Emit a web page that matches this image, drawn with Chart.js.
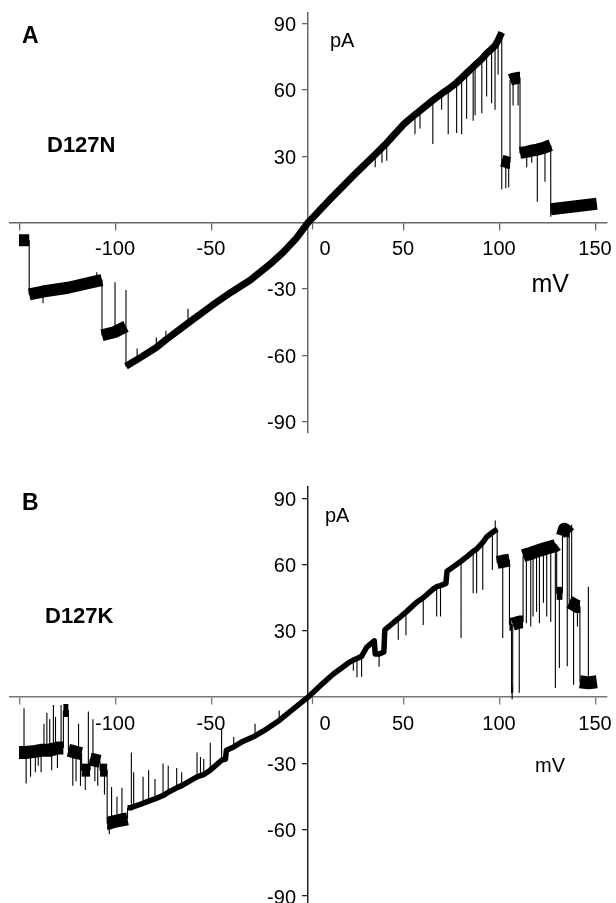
<!DOCTYPE html>
<html>
<head>
<meta charset="utf-8">
<script src="https://cdn.jsdelivr.net/npm/chart.js@4"></script>
<style>
  html, body { margin: 0; padding: 0; background: #fff; overflow: hidden; }
  body { width: 616px; height: 903px; position: relative; font-family: "Liberation Sans", Arial, sans-serif; }
  .panel { position: absolute; left: 0; width: 616px; }
  #panelA { top: 0; height: 460px; }
  #panelB { top: 460px; height: 443px; }
  .lbl { position: absolute; white-space: nowrap; line-height: 1; color: #000; }
  .bold { font-weight: bold; }
</style>
</head>
<body>
<div class="panel" id="panelA"><canvas id="chartA"></canvas></div>
<div class="panel" id="panelB"><canvas id="chartB"></canvas></div>

<div class="lbl bold" style="left:22px;top:23.5px;font-size:23px">A</div>
<div class="lbl bold" style="left:47px;top:133.5px;font-size:22px">D127N</div>
<div class="lbl" style="left:330px;top:29.5px;font-size:20px">pA</div>
<div class="lbl" style="left:531.5px;top:271px;font-size:25px">mV</div>

<div class="lbl bold" style="left:22px;top:490.5px;font-size:23px">B</div>
<div class="lbl bold" style="left:45px;top:604.5px;font-size:22px">D127K</div>
<div class="lbl" style="left:325px;top:505px;font-size:20px">pA</div>
<div class="lbl" style="left:535px;top:755px;font-size:20px">mV</div>

<script>
// axis ticks (mV / pA)
const xTicks = [-150, -100, -50, 50, 100, 150];
const xTickLabels = [-100, -50, 0, 50, 100, 150];
const yTicks = [-90, -60, -30, 30, 60, 90];

// D127N: main current level during the ramp (mV, pA); repeated x = conductance steps
const voltageA = [
  -150.5, -145.2, -145.2, -138, -125, -110, -107.3, -107.3, -100.5, -94.8,
  -94.8, -89, -79, -74, -62.5, -50, -40, -30, -20, -13,
  -6, 0, 12, 25, 35, 38.5, 41, 50, 55.7, 58.3,
  65, 69.6, 73, 77.4, 80, 82.6, 86, 87, 90.5, 93,
  95.6, 97.4, 99, 100.9, 100.9, 103, 104.5, 105.2, 105.2, 106.8,
  109.4, 110.4, 110.4, 113.9, 116.5, 119.4, 123.4, 126.4, 126.4, 150.4
];
const currentA = [
  -8, -8, -32.5, -31.2, -29.5, -26.5, -26, -51, -49.5, -47,
  -65, -62, -56.5, -53, -45.5, -37.5, -31.5, -26, -19, -13.5,
  -7, 0, 11, 22.4, 30.8, 33.8, 36, 44.6, 48.8, 50.6,
  55.3, 58.3, 60.3, 63.3, 65.4, 67.6, 70.4, 71.2, 74, 76.5,
  78.5, 80, 82.5, 86, 28, 27.5, 27, 27, 64.5, 65,
  65.5, 65.5, 31.5, 32, 32.5, 33, 34, 35, 6, 8.5
];
// D127N: brief flickers (voltage, level left, level reached)
const flickVoltA = [
  -138, -110, -100.5, -94.8, -89, -79, -74, -62.5, 35, 38.5,
  41, 55.7, 58.3, 65, 69.6, 73, 77.4, 80, 82.6, 86,
  87, 90.5, 93, 95.6, 97.4, 99, 100.9, 103, 104.5, 106.8,
  109.4, 113.9, 116.5, 119.4, 123.4, 126.4
];
const flickFromA = [
  -31.2, -26.5, -49.5, -47, -62, -56.5, -53, -45.5, 30.8, 33.8,
  36, 48.8, 50.6, 55.3, 58.3, 60.3, 63.3, 65.4, 67.6, 70.4,
  71.2, 74, 76.5, 78.5, 80, 82.5, 28, 27.5, 27, 65,
  65.5, 32, 32.5, 33, 34, 6
];
const flickToA = [
  -36.5, -22.5, -27, -30.5, -57, -52, -49, -39, 25, 27,
  28, 40, 42.5, 35.5, 51, 40, 40.5, 40, 47, 46,
  48.5, 49.5, 57, 54, 51, 67, 15, 15.5, 16, 53,
  53, 25, 27, 9.4, 18.5, 2.6
];

// D127K: main current level (mV, pA)
const voltageB = [
  -150.5, -147.9, -146.8, -142, -139, -136, -134.5, -133.5, -132.6, -130.5,
  -128.6, -127.4, -127.4, -124.8, -124.8, -122.5, -120.8, -117.9, -117.9, -116,
  -114.4, -113.5, -113.5, -111, -108.3, -108.3, -104.6, -104.6, -103.5, -102.3,
  -99.5, -96.9, -94, -94, -92, -90.8, -85.9, -83, -79.7, -75.5,
  -72.8, -68.4, -65.8, -57.8, -56, -54.3, -50.9, -45, -43, -42.5,
  -38.7, -34, -27.6, -21.4, -15, -9.4, 0, 8, 13.2, 21.9,
  23.6, 25.5, 27.9, 30.6, 34.5, 35, 37, 39.5, 40, 47,
  51, 56.6, 60, 65.3, 67, 69, 71.8, 72.4, 79.7, 82.6,
  86, 87.8, 91, 93, 96, 97.5, 98.5, 98.5, 101.4, 104.9,
  104.9, 106, 106, 106.6, 106.6, 110, 112, 112, 113.7, 116,
  117.2, 119, 120.5, 122.6, 124.3, 126.4, 128.8, 129.5, 129.5, 130.9,
  132.5, 132.5, 133.5, 135, 136, 136, 137.3, 138.3, 140.3, 141.6,
  141.6, 146, 150.4
];
const currentB = [
  -25, -25, -25, -24.5, -24, -24, -24, -23.5, -23.5, -23,
  -23, -23, -6, -6, -24, -24.5, -25, -25.5, -33, -33,
  -33, -33, -28, -28.5, -29, -33, -33, -57, -57, -56.5,
  -56, -55.5, -55, -50, -50, -49.5, -48, -47, -46, -44.5,
  -43, -41, -40, -36, -35.5, -35, -33, -28.5, -28, -24,
  -22.5, -20, -17.5, -14.3, -10.5, -6.5, 0, 6.5, 10.5, 16,
  16.8, 17.5, 18.5, 22.7, 25.5, 19.5, 19.5, 20.5, 30.5, 35.5,
  38.5, 43, 45, 49, 50, 50.5, 51.5, 57, 61.5, 63.5,
  66, 67, 70, 72.5, 74.5, 75.5, 76, 61, 61.5, 62,
  33, 33, 2, 2, 33, 34, 34, 64, 64.5, 65,
  65.5, 66, 66.5, 67, 67.5, 68, 68.5, 69, 47, 47,
  47, 73, 76, 75, 74, 43, 42.5, 42, 41, 41,
  7, 6.5, 7
];
// D127K: brief flickers (voltage, level left, level reached)
const flickVoltB = [
  -147.9, -146.8, -144.5, -142, -140.5, -139, -137.5, -136, -134.5, -133.5,
  -132.6, -131.5, -130.5, -128.6, -122.5, -120.8, -119.5, -118.5, -116, -114.4,
  -112, -111, -109.5, -106, -103.5, -102.3, -99.5, -96.9, -92, -90.8,
  -85.9, -83, -79.7, -75.5, -72.8, -68.4, -65.8, -57.8, -56, -54.3,
  -50.9, -45, -38.7, -27.6, -15, 23.6, 25.5, 27.9, 37, 47,
  51, 60, 67, 69, 79.7, 86, 87.8, 91, 96, 97.5,
  101.4, 110, 113.7, 116, 117.2, 119, 120.5, 122.6, 124.3, 126.4,
  128.8, 130.9, 135, 137.3, 138.3, 140.3, 146
];
const flickFromB = [
  -25, -25, -24.5, -24.5, -24, -24, -24, -24, -24, -23.5,
  -23.5, -23, -23, -23, -24.5, -25, -25, -25.5, -33, -33,
  -28.5, -28.5, -29, -33, -57, -56.5, -56, -55.5, -50, -49.5,
  -48, -47, -46, -44.5, -43, -41, -40, -36, -35.5, -35,
  -33, -28.5, -22.5, -17.5, -10.5, 16.8, 17.5, 18.5, 19.5, 35.5,
  38.5, 45, 50, 50.5, 61.5, 66, 67, 70, 74.5, 75.5,
  61.5, 34, 64.5, 65, 65.5, 66, 66.5, 67, 67.5, 68,
  68.5, 47, 75, 42.5, 42, 41, 6.5
];
const flickToB = [
  -5, -39, -36, -34, -31, -34, -12, -7, -10, -33,
  -3.5, -9, -32, -3.5, -40, -38, -12, -40, -42, -6.5,
  -10, -38, -40, -44, -62, -40.6, -45, -41, -25, -34,
  -36, -33, -37, -30, -31, -32, -34, -25, -27, -28,
  -20.6, -14, -18, -12, -6, 12, 9, 9.3, 13.8, 26,
  28, 32.7, 36.5, 36.5, 26.8, 47, 47, 48.6, 57.6, 80,
  26.8, 2, 33.5, 32, 36.5, 38.7, 33.5, 42.7, 36.5, 34,
  4.2, 13.2, 14, 78, 5.6, 32, 50
];

// flat, noisy stretches of each trace (outside the ramp) are drawn as a wider band
const noisyA = { below: -94.8, above: 100.9 };
const noisyB = { below: -94, above: 98.5 };

function traceWidth(noisy, rampWidth, flatWidth) {
  return (c) => {
    const x0 = c.p0.parsed.x, x1 = c.p1.parsed.x;
    if (Math.abs(x1 - x0) < 0.01) return 1.1;
    const mid = (x0 + x1) / 2;
    return (mid < noisy.below || mid > noisy.above) ? flatWidth : rampWidth;
  };
}

// each flicker is a short vertical stroke; null breaks the line between them
function flickerPoints(volts, from, to) {
  const pts = [];
  volts.forEach((v, i) => {
    pts.push({ x: v, y: from[i] }, { x: v, y: to[i] }, { x: v, y: null });
  });
  return pts;
}

const tickText = {
  id: 'tickText',
  afterDraw(chart) {
    const { ctx, scales: { x, y } } = chart;
    const x0 = x.getPixelForValue(0);
    const y0 = y.getPixelForValue(0);
    ctx.save();
    // the 0 tick sits a little right of the current axis in the original
    ctx.strokeStyle = chart.options.scales.x.border.color;
    ctx.lineWidth = 1.3;
    ctx.beginPath();
    ctx.moveTo(x0 + 4.5, y0);
    ctx.lineTo(x0 + 4.5, y0 + 7);
    ctx.stroke();

    ctx.fillStyle = '#000';
    ctx.font = '20px "Liberation Sans", Arial, sans-serif';
    ctx.textBaseline = 'alphabetic';
    ctx.textAlign = 'center';
    xTickLabels.forEach(v => {
      const px = v === 0 ? x0 + 17 : x.getPixelForValue(v) - 1;
      ctx.fillText(String(v), px, y0 + 32.5);
    });
    ctx.textAlign = 'right';
    yTicks.forEach(v => {
      ctx.fillText(String(v), x0 - 12, y.getPixelForValue(v) + 7.5);
    });
    ctx.restore();
  }
};

function makeChart(id, trace, flicks, noisy, rampW, flatW, yMin, yMax, pad, xColor, yColor) {
  return new Chart(document.getElementById(id), {
    type: 'line',
    data: {
      datasets: [{
        data: trace,
        borderColor: '#000',
        borderWidth: rampW,
        borderJoinStyle: 'round',
        pointRadius: 0,
        tension: 0,
        fill: false,
        segment: { borderWidth: traceWidth(noisy, rampW, flatW) }
      }, {
        data: flicks,
        borderColor: '#000',
        borderWidth: 1.1,
        pointRadius: 0,
        tension: 0,
        fill: false,
        spanGaps: false
      }]
    },
    options: {
      responsive: true,
      maintainAspectRatio: false,
      animation: false,
      devicePixelRatio: 1,
      layout: { padding: pad },
      plugins: { legend: { display: false }, tooltip: { enabled: false } },
      scales: {
        x: {
          type: 'linear',
          min: -155.2,
          max: 155.7,
          position: { y: 0 },
          afterBuildTicks: s => { s.ticks = xTicks.map(v => ({ value: v })); },
          afterFit: s => { s.height = 0; },
          ticks: { display: false },
          grid: { drawOnChartArea: false, drawTicks: true, tickLength: 7, color: xColor, lineWidth: 1.3 },
          border: { display: true, color: xColor, width: 1.5 }
        },
        y: {
          type: 'linear',
          min: yMin,
          max: yMax,
          position: { x: 0 },
          afterBuildTicks: s => { s.ticks = yTicks.map(v => ({ value: v })); },
          afterFit: s => { s.width = 0; },
          ticks: { display: false },
          grid: { drawOnChartArea: false, drawTicks: true, tickLength: 5, color: yColor, lineWidth: 1.3 },
          border: { display: true, color: yColor, width: 1.5 }
        }
      }
    },
    plugins: [tickText]
  });
}

makeChart('chartA',
  voltageA.map((v, i) => ({ x: v, y: currentA[i] })),
  flickerPoints(flickVoltA, flickFromA, flickToA),
  noisyA, 7, 12, -95.2, 94.8,
  { left: 10, right: 9, top: 13, bottom: 27 }, '#666', '#666');
makeChart('chartB',
  voltageB.map((v, i) => ({ x: v, y: currentB[i] })),
  flickerPoints(flickVoltB, flickFromB, flickToB),
  noisyB, 5.5, 13, -93.1, 95.1,
  { left: 10, right: 9, top: 27, bottom: 0 }, '#777', '#222');
</script>
</body>
</html>
